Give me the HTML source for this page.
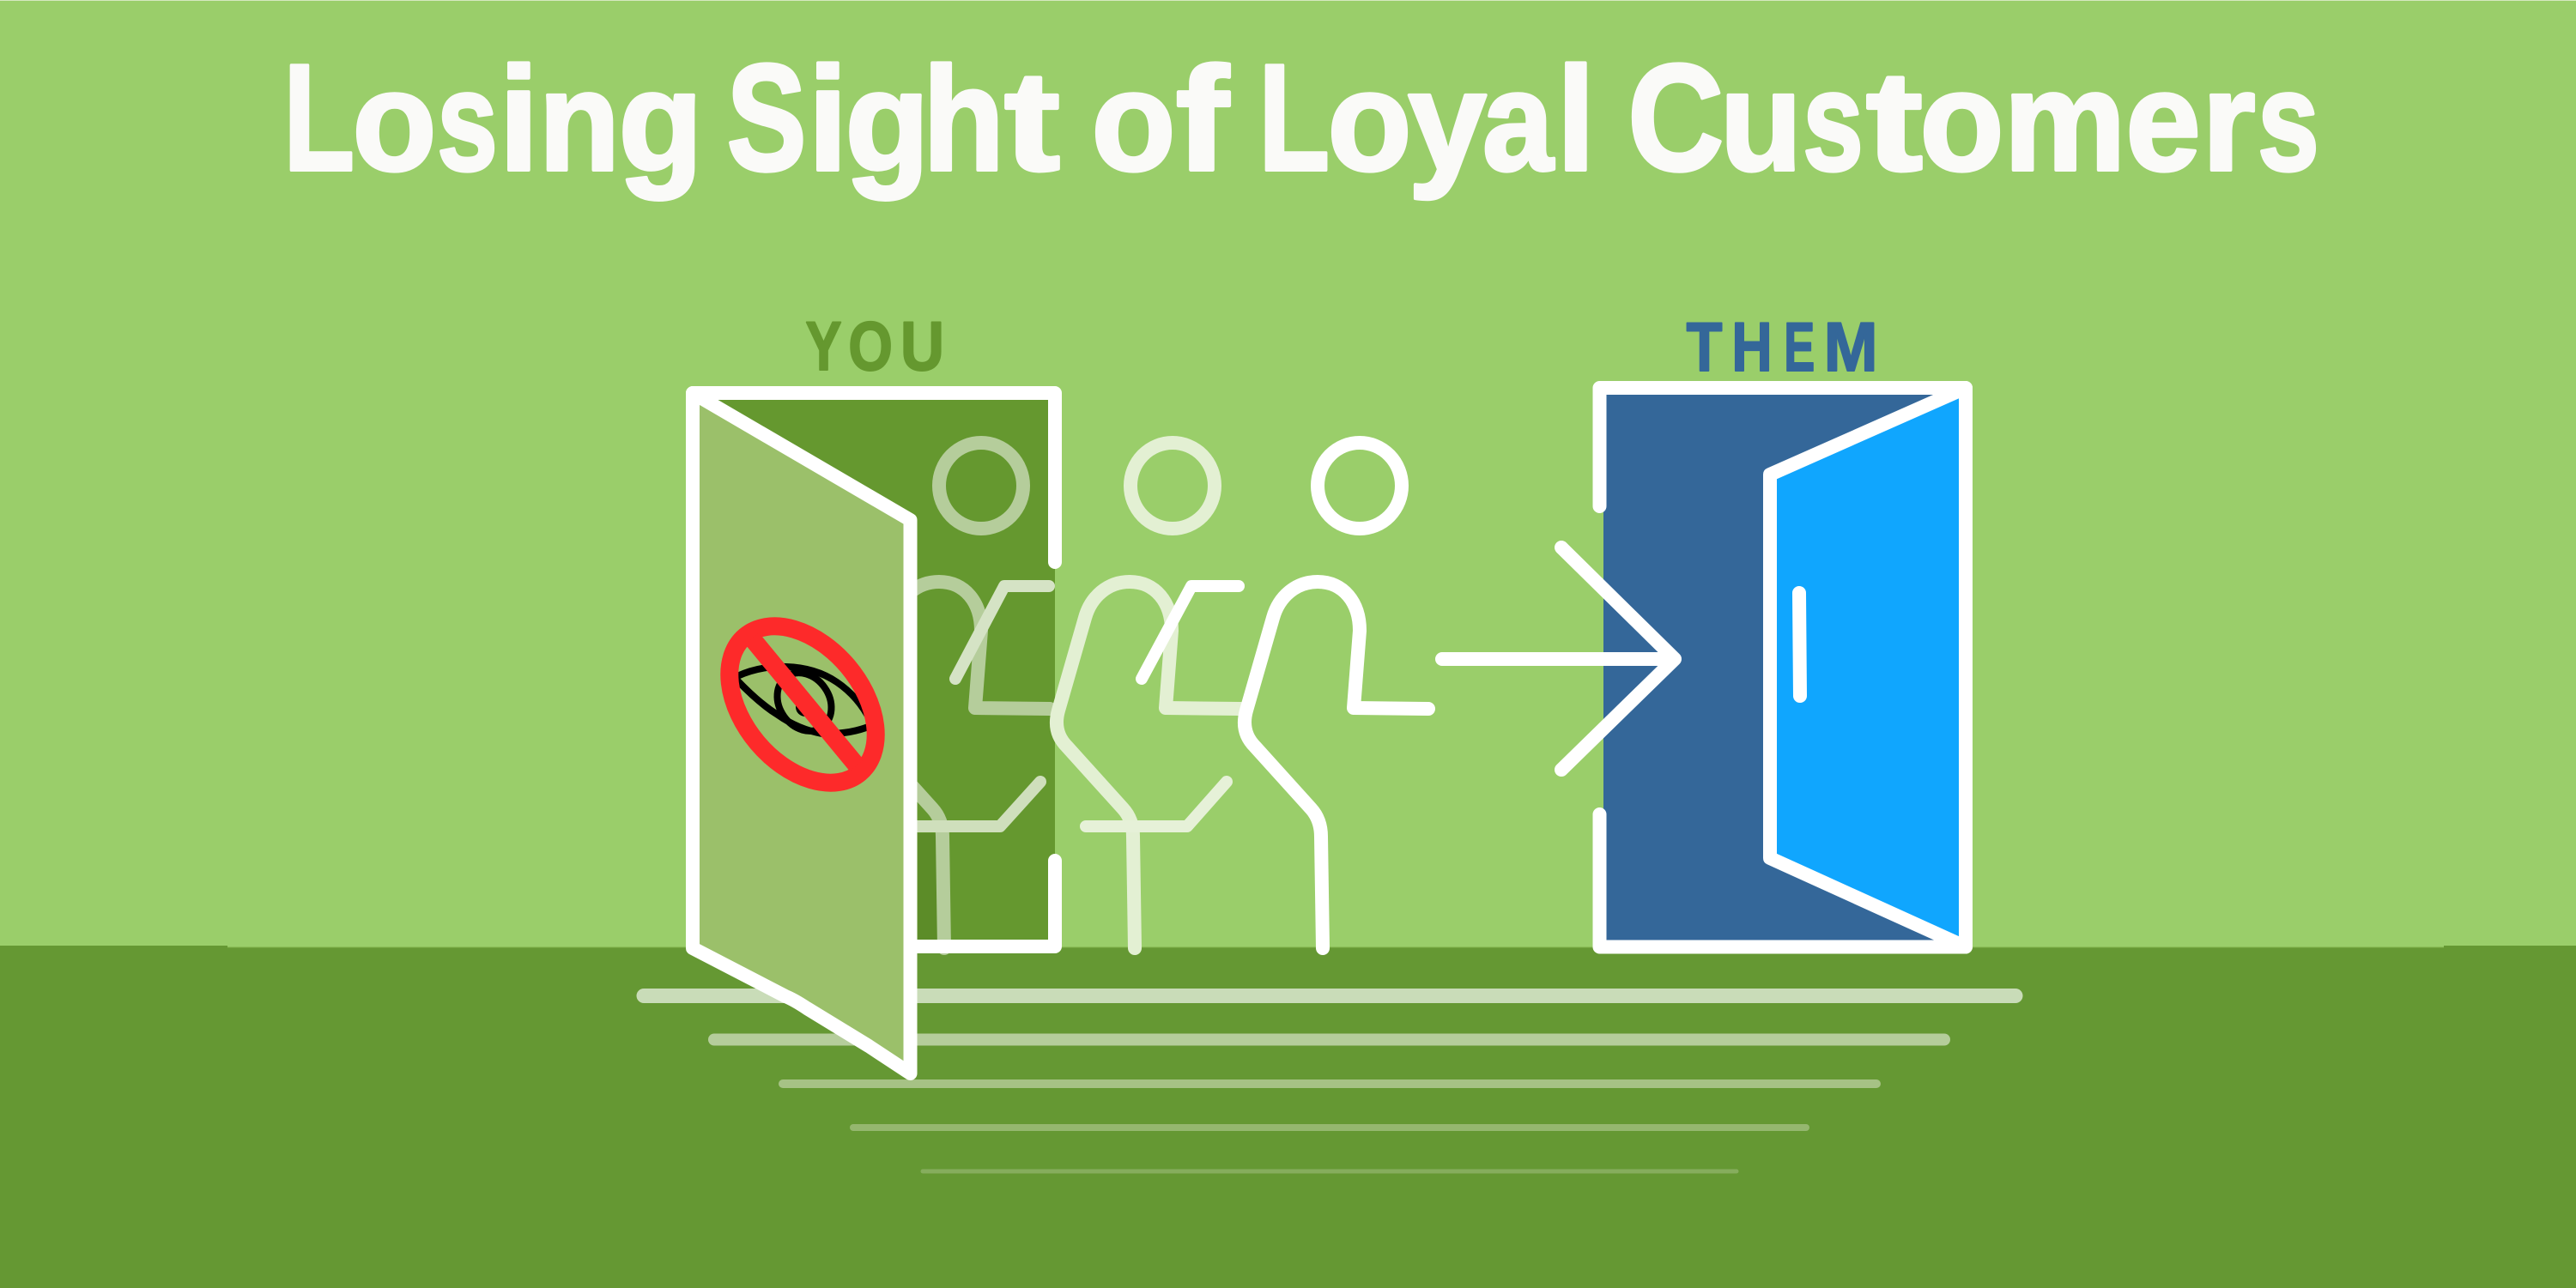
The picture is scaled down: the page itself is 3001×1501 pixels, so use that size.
<!DOCTYPE html>
<html><head><meta charset="utf-8"><style>
html,body{margin:0;padding:0;background:#9ace6a;width:3001px;height:1501px;overflow:hidden}
svg{display:block}
.t text{font-family:"Liberation Sans",sans-serif;font-weight:700;font-size:165px;fill:#fafaf8;stroke:#fafaf8;stroke-width:4px;stroke-linejoin:round}
.t text.c{font-size:177px}
.t text.a{font-size:172px}
.l text{font-family:"Liberation Sans",sans-serif;font-weight:700;font-size:81px;stroke-width:2px;stroke-linejoin:round}
</style></head><body>
<svg width="3001" height="1501" viewBox="0 0 3001 1501" xmlns="http://www.w3.org/2000/svg">
<rect width="3001" height="1501" fill="#9ace6a"/>
<rect width="3001" height="1" fill="#d5e8c0"/>
<rect y="1102" width="3001" height="399" fill="#659833"/>
<rect x="265" y="1101" width="2582" height="3" fill="#9ace6a"/>
<rect x="265" y="1103.500" width="2582" height="1" fill="#7fb04a"/>

<g class="t">
<text class="c" x="330.1" y="198" textLength="83" lengthAdjust="spacingAndGlyphs">L</text>
<text x="410.6" y="198" textLength="97.8" lengthAdjust="spacingAndGlyphs">o</text>
<text x="509.2" y="198" textLength="70.6" lengthAdjust="spacingAndGlyphs">s</text>
<text class="a" x="581.3" y="198" textLength="46.3" lengthAdjust="spacingAndGlyphs">i</text>
<text x="627.8" y="198" textLength="94.2" lengthAdjust="spacingAndGlyphs">n</text>
<text x="720.6" y="198" textLength="98" lengthAdjust="spacingAndGlyphs">g</text>
<text class="c" x="846.7" y="198" textLength="92.8" lengthAdjust="spacingAndGlyphs">S</text>
<text class="a" x="941.3" y="198" textLength="46.3" lengthAdjust="spacingAndGlyphs">i</text>
<text x="984.6" y="198" textLength="98" lengthAdjust="spacingAndGlyphs">g</text>
<text class="a" x="1075.1" y="198" textLength="95" lengthAdjust="spacingAndGlyphs">h</text>
<text x="1170.1" y="198" textLength="64.8" lengthAdjust="spacingAndGlyphs">t</text>
<text x="1271.6" y="198" textLength="97.8" lengthAdjust="spacingAndGlyphs">o</text>
<text class="a" x="1369.8" y="198" textLength="61.8" lengthAdjust="spacingAndGlyphs">f</text>
<text class="c" x="1466.1" y="198" textLength="83" lengthAdjust="spacingAndGlyphs">L</text>
<text x="1546.6" y="198" textLength="97.8" lengthAdjust="spacingAndGlyphs">o</text>
<text x="1640.4" y="198" textLength="91.3" lengthAdjust="spacingAndGlyphs">y</text>
<text x="1727.1" y="198" textLength="82.4" lengthAdjust="spacingAndGlyphs">a</text>
<text class="a" x="1813.8" y="198" textLength="44.3" lengthAdjust="spacingAndGlyphs">l</text>
<text class="c" x="1896.2" y="198" textLength="112" lengthAdjust="spacingAndGlyphs">C</text>
<text x="2003.8" y="198" textLength="95.5" lengthAdjust="spacingAndGlyphs">u</text>
<text x="2100.2" y="198" textLength="70.6" lengthAdjust="spacingAndGlyphs">s</text>
<text x="2174" y="198" textLength="65.9" lengthAdjust="spacingAndGlyphs">t</text>
<text x="2236.6" y="198" textLength="97.8" lengthAdjust="spacingAndGlyphs">o</text>
<text x="2334.5" y="198" textLength="141.9" lengthAdjust="spacingAndGlyphs">m</text>
<text x="2476.5" y="198" textLength="87.2" lengthAdjust="spacingAndGlyphs">e</text>
<text x="2565.5" y="198" textLength="62.1" lengthAdjust="spacingAndGlyphs">r</text>
<text x="2630.1" y="198" textLength="71.7" lengthAdjust="spacingAndGlyphs">s</text>
</g>

<g class="l" fill="#65982f" stroke="#65982f">
<text x="938.5" y="431" textLength="42" lengthAdjust="spacingAndGlyphs">Y</text>
<text x="988.4" y="431" textLength="51.5" lengthAdjust="spacingAndGlyphs">O</text>
<text x="1049" y="431" textLength="51" lengthAdjust="spacingAndGlyphs">U</text>
</g>
<g class="l" fill="#346799" stroke="#346799">
<text x="1964.6" y="432" textLength="41.8" lengthAdjust="spacingAndGlyphs">T</text>
<text x="2017.4" y="432" textLength="47.3" lengthAdjust="spacingAndGlyphs">H</text>
<text x="2078.2" y="432" textLength="36" lengthAdjust="spacingAndGlyphs">E</text>
<text x="2124.7" y="432" textLength="62.8" lengthAdjust="spacingAndGlyphs">M</text>
</g>

<!-- steps -->
<g stroke-linecap="round" fill="none">
<path d="M750 1160.500H2348" stroke="#c9dcb8" stroke-width="17"/>
<path d="M832 1211.500H2265" stroke="#b5cd9b" stroke-width="14"/>
<path d="M912 1263H2186" stroke="#a6c285" stroke-width="10"/>
<path d="M994 1314H2104" stroke="#95b76f" stroke-width="8"/>
<path d="M1075 1365H2023" stroke="#86ad5d" stroke-width="5"/>
</g>

<!-- YOU door interior -->
<rect x="807" y="458" width="422" height="645" fill="#65982f"/>
<rect x="1069" y="971" width="23" height="125" fill="#5c8c28"/>

<!-- person 1 -->
<g fill="none" stroke-linecap="round" stroke-linejoin="round">
<ellipse cx="1143" cy="566" rx="49" ry="50" stroke="#b5cd9b" stroke-width="16"/>
<path transform="translate(-441 0)" d="M1541 1105L1539 975Q1539 955 1527 942L1462 870Q1445 853 1452 828L1483 720C1490 695 1510 678 1535 678C1565 678 1584 702 1584 735L1577 825L1664 826" stroke="#b5cd9b" stroke-width="16"/>
<path d="M1113 791L1170 683H1222" stroke="#d5e3c5" stroke-width="14"/>
<path d="M1212 911L1165 963H1060" stroke="#cfdfbc" stroke-width="14"/>
</g>

<!-- person 2 -->
<g fill="none" stroke-linecap="round" stroke-linejoin="round">
<ellipse cx="1366" cy="566" rx="49" ry="50" stroke="#e3f0d3" stroke-width="16"/>
<path transform="translate(-219 0)" d="M1541 1105L1539 975Q1539 955 1527 942L1462 870Q1445 853 1452 828L1483 720C1490 695 1510 678 1535 678C1565 678 1584 702 1584 735L1577 825L1664 826" stroke="#e3f0d3" stroke-width="16"/>
<path d="M1330 791L1388 683H1443" stroke="#ffffff" stroke-width="14"/>
<path d="M1429 911L1383 963H1265" stroke="#e6f1d8" stroke-width="14"/>
</g>

<!-- person 3 -->
<g fill="none" stroke="#fff" stroke-width="16" stroke-linecap="round" stroke-linejoin="round">
<ellipse cx="1584" cy="566" rx="49" ry="50"/>
<path d="M1541 1105L1539 975Q1539 955 1527 942L1462 870Q1445 853 1452 828L1483 720C1490 695 1510 678 1535 678C1565 678 1584 702 1584 735L1577 825L1664 826"/>
</g>

<!-- YOU frame -->
<path d="M1229 655V458H807V1103M1229 1003V1103H1060" fill="none" stroke="#fff" stroke-width="16" stroke-linecap="round" stroke-linejoin="round"/>
<!-- YOU leaf -->
<path d="M807 458L1060.500 606V1251L1012 1219L940 1175Q925 1165 915 1161L807 1105Z" fill="#9bc06a" stroke="#fff" stroke-width="16" stroke-linejoin="round"/>

<!-- eye -->
<g fill="none" stroke="#000" stroke-width="8">
<path d="M859 788Q885 776 916 777Q950 778 975 795Q1000 812 1014 840"/>
<path d="M859 793Q885 820 906 833Q930 850 958 855Q990 856 1014 846"/>
<ellipse cx="937" cy="818" rx="29" ry="36" transform="rotate(-35 937 818)"/>
<circle cx="938" cy="824" r="11" fill="#000" stroke="none"/>
</g>
<g fill="none" stroke="#fd2a2a">
<ellipse cx="935" cy="821" rx="104" ry="69" stroke-width="21" transform="rotate(50 935 821)"/>
<path d="M876 744L998 892" stroke-width="21"/>
</g>

<!-- THEM door -->
<rect x="1868" y="452" width="422" height="651" fill="#346799"/>
<path d="M1863.500 590V452H2290V1103.500H1863.500V949" fill="none" stroke="#fff" stroke-width="16" stroke-linecap="round" stroke-linejoin="round"/>
<path d="M2290 452L2062 553V1000L2290 1103.500Z" fill="#10a6fe" stroke="#fff" stroke-width="16" stroke-linejoin="round"/>
<path d="M2096 691L2097 811" stroke="#fff" stroke-width="16" stroke-linecap="round" fill="none"/>

<!-- arrow -->
<path d="M1680 768H1950M1819 638L1951 768L1819 897" fill="none" stroke="#fff" stroke-width="16" stroke-linecap="round" stroke-linejoin="round"/>
</svg>
</body></html>
